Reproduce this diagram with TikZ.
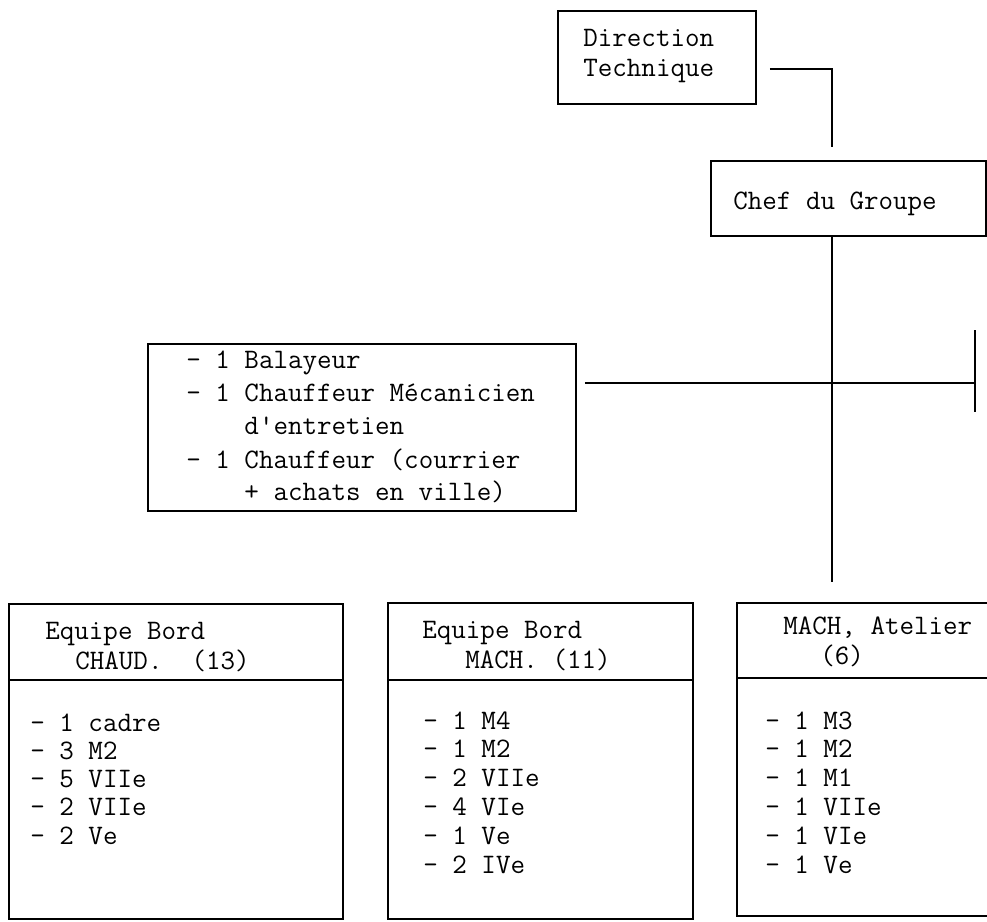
\documentclass[tikz,border=0pt]{standalone}
\tikzset{
  cadre/.style={draw, line width=0.9pt, inner sep=0pt, anchor=north west},
  ligne/.style={anchor=base west, inner sep=0pt},
  trait/.style={line width=0.9pt},
}
\begin{document}
\begin{tikzpicture}[x=0.5pt, y=-0.5pt, font=\ttfamily\fontsize{14.1pt}{16pt}\selectfont]
\useasboundingbox (0,0) rectangle (987,922);
\clip (0,0) rectangle (987,922);
\node[cadre, minimum width=99pt, minimum height=46.5pt] (dir) at (557,10) {};
\node[ligne] (dir1) at (583,46) {Direction};
\node[ligne] (dir2) at (583,76) {Technique};
\node[cadre, minimum width=137.5pt, minimum height=37.5pt] (chef) at (710,160) {};
\node[ligne] (chef1) at (733,209) {Chef du Groupe};
\node[cadre, minimum width=214pt, minimum height=83.5pt] (staff) at (147,343) {};
\node[ligne] (staff1) at (186,368) {- 1 Balayeur};
\node[ligne] (staff2) at (186,401) {- 1 Chauffeur Mécanicien};
\node[ligne] (staff3) at (186,434) {\phantom{- 1 }d\textquotesingle entretien};
\node[ligne] (staff4) at (186,468) {- 1 Chauffeur (courrier};
\node[ligne] (staff5) at (186,500) {\phantom{- 1 }+ achats en ville)};
\node[cadre, minimum width=167pt, minimum height=157.5pt] (chaud) at (8,603) {};
\draw[trait] ([yshift=-38.5pt]chaud.north west) -- ([yshift=-38.5pt]chaud.north east);
\node[ligne] (chaud1) at (45,639) {Equipe Bord};
\node[ligne] (chaud2) at (75,669) {CHAUD.~~(13)};
\foreach \t [count=\i] in {- 1 cadre, - 3 M2, - 5 VIIe, - 2 VIIe, - 2 Ve}
  \node[ligne] (chaudl\i) at (30,{731+28.3*(\i-1)}) {\t};
\node[cadre, minimum width=152.5pt, minimum height=158pt] (mach) at (387,602) {};
\draw[trait] ([yshift=-39pt]mach.north west) -- ([yshift=-39pt]mach.north east);
\node[ligne] (mach1) at (422,638) {Equipe Bord};
\node[ligne] (mach2) at (465,668) {MACH. (11)};
\foreach \t [count=\i] in {- 1 M4, - 1 M2, - 2 VIIe, - 4 VIe, - 1 Ve, - 2 IVe}
  \node[ligne] (machl\i) at (423,{729+28.8*(\i-1)}) {\t};
\node[cadre, minimum width=137pt, minimum height=156.5pt] (atelier) at (736,602) {};
\draw[trait] ([yshift=-38pt]atelier.north west) -- ([yshift=-38pt]atelier.north east);
\node[ligne] (atelier1) at (783,634) {MACH, Atelier};
\node[ligne] (atelier2) at (820,664) {(6)};
\foreach \t [count=\i] in {- 1 M3, - 1 M2, - 1 M1, - 1 VIIe, - 1 VIe, - 1 Ve}
  \node[ligne] (atelierl\i) at (765,{729+28.8*(\i-1)}) {\t};
\coordinate (jonction) at (832,383);
\coordinate (bord) at (975,330);
\coordinate (bordB) at (975,412);
\draw[trait] ([shift={(13,11.5)}]dir.east) -| ([yshift=6.5pt]jonction |- chef.north);
\draw[trait] (jonction |- chef.south) -- ([yshift=10pt]jonction |- atelier.north);
\draw[trait] ([xshift=4pt]staff.east |- jonction) -- (bord |- jonction);
\draw[trait] (bord) -- (bordB);
\end{tikzpicture}
\end{document}
